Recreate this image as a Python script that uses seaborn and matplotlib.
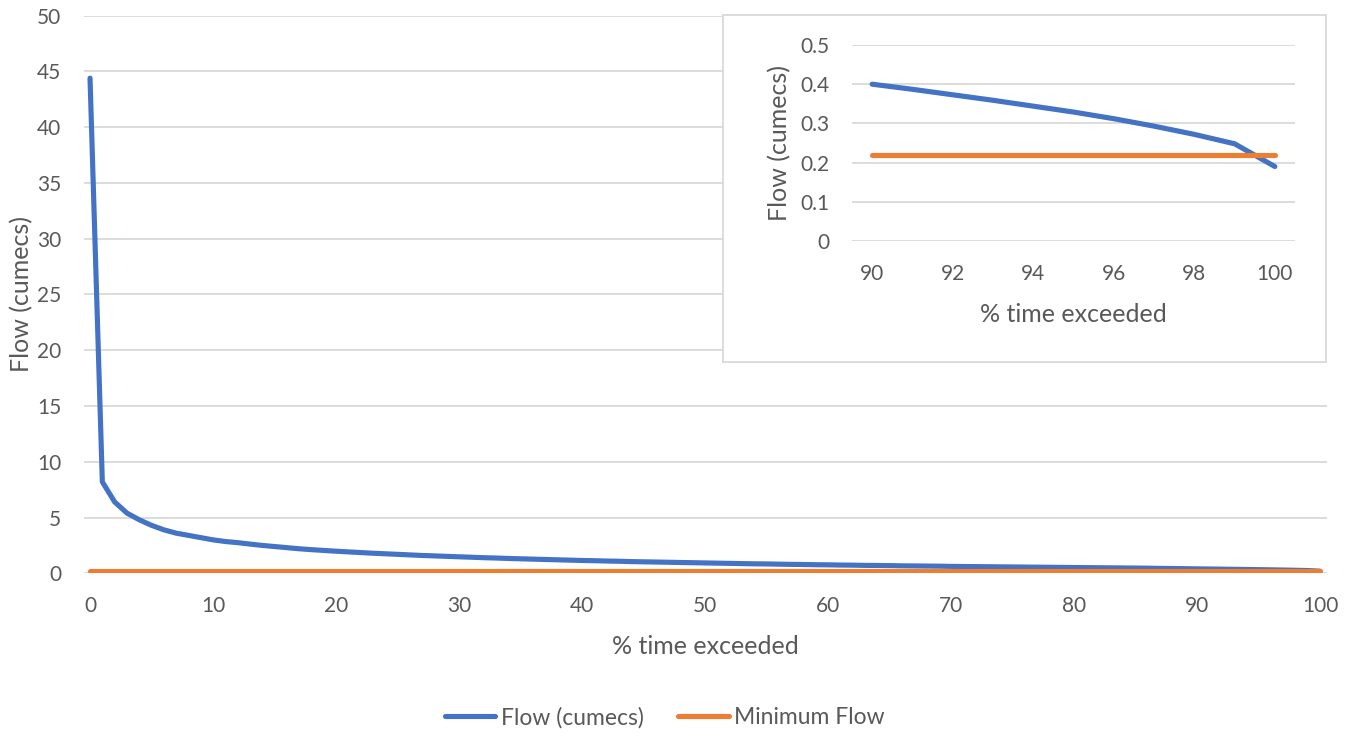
import numpy as np
import pandas as pd
import matplotlib
matplotlib.use("Agg")
import matplotlib.pyplot as plt
import seaborn as sns

# --- donnees ---
pct_time = list(range(0, 101))
flow_cumecs = [
    44.4, 8.2, 6.4, 5.4, 4.8, 4.3, 3.9, 3.6, 3.4, 3.2,
    3.0, 2.85, 2.75, 2.62, 2.5, 2.4, 2.3, 2.2, 2.12, 2.05,
    1.98, 1.92, 1.86, 1.8, 1.75, 1.7, 1.65, 1.6, 1.56, 1.52,
    1.48, 1.44, 1.4, 1.37, 1.33, 1.3, 1.27, 1.24, 1.21, 1.18,
    1.15, 1.13, 1.1, 1.08, 1.05, 1.03, 1.01, 0.99, 0.97, 0.95,
    0.93, 0.91, 0.89, 0.87, 0.85, 0.84, 0.82, 0.8, 0.79, 0.77,
    0.76, 0.74, 0.73, 0.71, 0.7, 0.69, 0.67, 0.66, 0.65, 0.64,
    0.62, 0.61, 0.6, 0.59, 0.58, 0.57, 0.56, 0.55, 0.54, 0.53,
    0.52, 0.51, 0.5, 0.49, 0.48, 0.47, 0.46, 0.44, 0.43, 0.415,
    0.40, 0.387, 0.373, 0.359, 0.344, 0.329, 0.312, 0.293, 0.272, 0.248,
    0.19,
]
min_flow = 0.22
series_names = ["Flow (cumecs)", "Minimum Flow"]
colors = {"Flow (cumecs)": "#4472C4", "Minimum Flow": "#ED7D31"}

main_xticks = [0, 10, 20, 30, 40, 50, 60, 70, 80, 90, 100]
main_yticks = [0, 5, 10, 15, 20, 25, 30, 35, 40, 45, 50]
inset_xticks = [90, 92, 94, 96, 98, 100]
inset_yticks = [0, 0.1, 0.2, 0.3, 0.4, 0.5]
inset_ylabels = ["0", "0.1", "0.2", "0.3", "0.4", "0.5"]

df = pd.DataFrame({
    "pct": pct_time * 2,
    "flow": flow_cumecs + [min_flow] * len(pct_time),
    "serie": [series_names[0]] * len(pct_time) + [series_names[1]] * len(pct_time),
})
df_zoom = df[df["pct"] >= 90]

sns.set_theme(style="white")
plt.rcParams["font.family"] = ["Lato", "DejaVu Sans"]
TXT = "#595959"
GRID = "#d9d9d9"
LW = 3.7

fig = plt.figure(figsize=(13.54, 7.33), dpi=100)

# --- graphique principal ---
ax = fig.add_axes([84 / 1354, 1 - 573.3 / 733, 1243 / 1354, 557.6 / 733])
sns.lineplot(data=df, x="pct", y="flow", hue="serie", palette=colors,
             linewidth=LW, ax=ax, legend=False, sort=False,
             solid_capstyle="round")
ax.set_xlim(-0.49, 100.57)
ax.set_ylim(0, 50)
ax.set_xticks(main_xticks)
ax.set_yticks(main_yticks)
ax.grid(axis="y", color=GRID, linewidth=1.3)
ax.set_axisbelow(True)
for s in ax.spines.values():
    s.set_visible(False)
ax.tick_params(axis="x", length=0, labelsize=15, colors=TXT, pad=16)
ax.tick_params(axis="y", length=0, labelsize=15, colors=TXT, pad=16.5)
ax.set_xlabel("% time exceeded", fontsize=18, color=TXT)
ax.set_ylabel("Flow (cumecs)", fontsize=18, color=TXT)
ax.xaxis.set_label_coords(0.5, -0.111)
ax.yaxis.set_label_coords(-0.041, 0.5)

# --- cadre de l'encart ---
frame = fig.add_axes([723 / 1354, 1 - 362 / 733, 603 / 1354, 347 / 733])
frame.set_facecolor("white")
frame.set_xticks([])
frame.set_yticks([])
for s in frame.spines.values():
    s.set_color(GRID)
    s.set_linewidth(1.3)

# --- encart 90-100 % ---
axi = fig.add_axes([852 / 1354, 1 - 241 / 733, 443 / 1354, 196 / 733])
sns.lineplot(data=df_zoom, x="pct", y="flow", hue="serie", palette=colors,
             linewidth=LW, ax=axi, legend=False, sort=False,
             solid_capstyle="round")
axi.set_facecolor("none")
axi.set_xlim(89.5, 100.5)
axi.set_ylim(0, 0.5)
axi.set_xticks(inset_xticks)
axi.set_yticks(inset_yticks)
axi.set_yticklabels(inset_ylabels)
axi.grid(axis="y", color=GRID, linewidth=1.3)
axi.set_axisbelow(True)
for s in axi.spines.values():
    s.set_visible(False)
axi.tick_params(axis="x", length=0, labelsize=15, colors=TXT, pad=16.5)
axi.tick_params(axis="y", length=0, labelsize=15, colors=TXT, pad=16.5)
axi.set_xlabel("% time exceeded", fontsize=18, color=TXT)
axi.set_ylabel("Flow (cumecs)", fontsize=18, color=TXT)
axi.xaxis.set_label_coords(0.5, -0.315)
axi.yaxis.set_label_coords(-0.137, 0.5)

# --- legende ---
handles = [plt.Line2D([0], [0], color=colors[n], linewidth=LW,
                      solid_capstyle="round") for n in series_names]
fig.legend(handles, series_names, loc="center", bbox_to_anchor=(0.491, 0.021),
           ncol=2, frameon=False, fontsize=16.5, labelcolor=TXT,
           handlelength=2.2, handletextpad=0.25, columnspacing=1.5)

fig.savefig("out.png", dpi=100, facecolor="white")
